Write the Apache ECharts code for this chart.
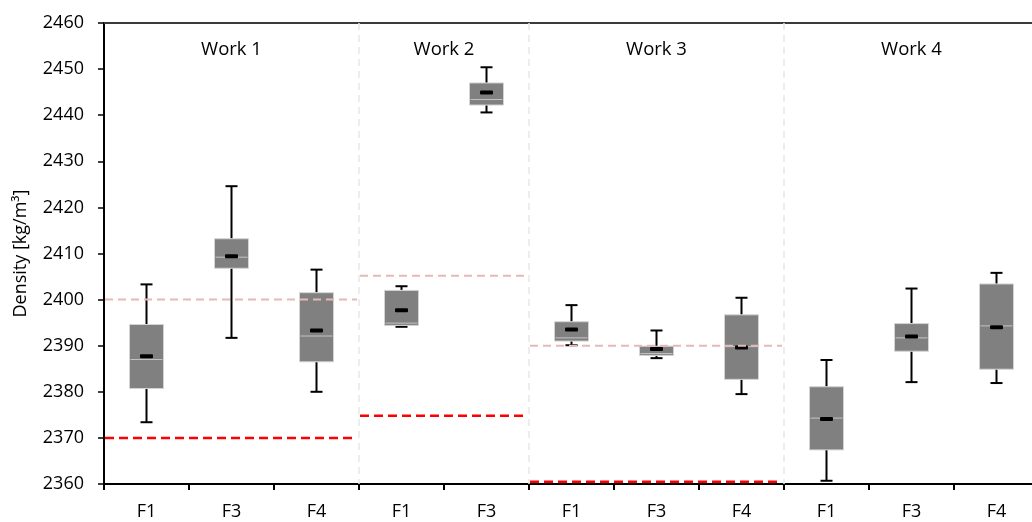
<!DOCTYPE html>
<html>
<head>
<meta charset="utf-8">
<script src="https://cdn.jsdelivr.net/npm/echarts@6/dist/echarts.min.js"></script>
<style>
  html, body { margin: 0; padding: 0; background: #ffffff; overflow: hidden; width: 1032px; height: 522px; }
  /* the plot area runs a few pixels past the right edge of the page */
  #chart { width: 1039px; height: 522px; }
</style>
</head>
<body>
<div id="chart"></div>
<script>
// Mixture labels along the x axis
const categories = ['F1', 'F3', 'F4', 'F1', 'F3', 'F1', 'F3', 'F4', 'F1', 'F3', 'F4'];

// Box statistics per mixture, density in kg/m3
const whiskerLow  = [2373.4, 2391.7, 2380.0, 2394.1, 2440.6, 2390.1, 2387.3, 2379.5, 2360.7, 2382.1, 2381.9];
const quartile1   = [2380.7, 2406.8, 2386.5, 2394.4, 2442.2, 2391.0, 2387.9, 2382.7, 2367.4, 2388.8, 2384.9];
const median      = [2387.0, 2409.2, 2392.1, 2394.9, 2443.4, 2391.7, 2388.3, 2389.8, 2374.3, 2391.7, 2394.3];
const quartile3   = [2394.6, 2413.2, 2401.5, 2402.0, 2447.0, 2395.2, 2389.9, 2396.7, 2381.1, 2394.8, 2403.4];
const whiskerHigh = [2403.3, 2424.6, 2406.5, 2402.9, 2450.4, 2398.8, 2393.3, 2400.4, 2386.9, 2402.4, 2405.8];
const mean        = [2387.7, 2409.4, 2393.3, 2397.7, 2444.9, 2393.5, 2389.3, 2389.6, 2374.1, 2392.0, 2394.0];

// Works and how many mixtures each one covers
const works = ['Work 1', 'Work 2', 'Work 3', 'Work 4'];
const workSizes = [3, 2, 3, 3];

// Reference densities per work (null = none given)
const referenceUpper = [2400.0, 2405.2, 2390.0, null];
const referenceLower = [2370.0, 2374.8, 2360.5, null];

// Density axis
const yMin = 2360, yMax = 2460, yStep = 10;

const FONT = '"Open Sans", "Noto Sans", sans-serif';

const boxData = categories.map((c, i) => [i, whiskerLow[i], quartile1[i], median[i], quartile3[i], whiskerHigh[i], mean[i]]);

let start = 0;
const workData = works.map((w, k) => {
  const row = [start, start + workSizes[k],
    referenceUpper[k] == null ? NaN : referenceUpper[k],
    referenceLower[k] == null ? NaN : referenceLower[k], k];
  start += workSizes[k];
  return row;
});

function renderBox(params, api) {
  const idx = api.value(0);
  const x = api.coord([idx, yMin])[0];
  const band = api.size([1, 0])[0];
  const bw = band * 0.4;
  const yLo = api.coord([idx, api.value(1)])[1];
  const yQ1 = api.coord([idx, api.value(2)])[1];
  const yMed = api.coord([idx, api.value(3)])[1];
  const yQ3 = api.coord([idx, api.value(4)])[1];
  const yHi = api.coord([idx, api.value(5)])[1];
  const yMean = api.coord([idx, api.value(6)])[1];
  const cap = 6;
  const black = { stroke: '#000000', lineWidth: 2 };
  return {
    type: 'group',
    children: [
      { type: 'line', shape: { x1: x, y1: yHi, x2: x, y2: yQ3 }, style: black },
      { type: 'line', shape: { x1: x, y1: yQ1, x2: x, y2: yLo }, style: black },
      { type: 'line', shape: { x1: x - cap, y1: yHi, x2: x + cap, y2: yHi }, style: black },
      { type: 'line', shape: { x1: x - cap, y1: yLo, x2: x + cap, y2: yLo }, style: black },
      { type: 'rect', shape: { x: x - bw / 2, y: yQ3, width: bw, height: yQ1 - yQ3 },
        style: { fill: '#808080', stroke: '#d4d4d4', lineWidth: 1 } },
      { type: 'line', shape: { x1: x - bw / 2 + 1, y1: yMed, x2: x + bw / 2 - 1, y2: yMed },
        style: { stroke: '#c4c4c4', lineWidth: 1 } },
      { type: 'rect', shape: { x: x - 6.5, y: yMean - 2, width: 13, height: 4, r: 1 },
        style: { fill: '#000000' } }
    ]
  };
}

function renderWork(params, api) {
  const s = api.value(0), e = api.value(1);
  const up = api.value(2), lo = api.value(3), k = api.value(4);
  const xs = api.coord([s, yMin])[0];
  const xe = api.coord([e, yMin])[0];
  const yTop = api.coord([s, yMax])[1];
  const yBot = api.coord([s, yMin])[1];
  const children = [];
  if (k < works.length - 1) {
    children.push({ type: 'line', z2: 1,
      shape: { x1: xe, y1: yTop, x2: xe, y2: yBot },
      style: { stroke: '#e8e8e8', lineWidth: 1.5, lineDash: [7, 5] } });
  }
  if (!isNaN(up)) {
    const y = api.coord([s, up])[1];
    children.push({ type: 'line', z2: 5,
      shape: { x1: xs + 1, y1: y, x2: xe - 2, y2: y },
      style: { stroke: '#e6b9b8', lineWidth: 2, lineDash: [8, 5] } });
  }
  if (!isNaN(lo)) {
    const y = api.coord([s, lo])[1];
    children.push({ type: 'line', z2: 5,
      shape: { x1: xs + 1, y1: y, x2: xe - 2, y2: y },
      style: { stroke: '#ff0000', lineWidth: 2.5, lineDash: [9, 5] } });
  }
  children.push({ type: 'text', z2: 6,
    style: { text: works[k], x: (xs + xe) / 2, y: yTop + 27, align: 'center', verticalAlign: 'middle',
      fontSize: 18.5, fontFamily: FONT, fill: '#000000' } });
  return { type: 'group', children };
}

const chart = echarts.init(document.getElementById('chart'), null, { renderer: 'canvas' });
chart.setOption({
  animation: false,
  backgroundColor: '#ffffff',
  grid: { left: 104, right: 0, top: 23, bottom: 38, containLabel: false },
  xAxis: [
    {
      type: 'category', data: categories, position: 'bottom', boundaryGap: true,
      axisLine: { show: true, lineStyle: { color: '#000000', width: 2 } },
      axisTick: { show: true, length: 6, lineStyle: { color: '#000000', width: 2 } },
      axisLabel: { color: '#000000', fontSize: 18, fontFamily: FONT, margin: 19 },
      splitLine: { show: false }
    },
    {
      type: 'value', min: 0, max: categories.length, position: 'top',
      axisLine: { show: true, onZero: false, lineStyle: { color: '#3a3a3a', width: 2 } },
      axisTick: { show: false }, axisLabel: { show: false }, splitLine: { show: false }
    }
  ],
  yAxis: {
    type: 'value', min: yMin, max: yMax, interval: yStep,
    name: 'Density [kg/m³]', nameLocation: 'middle', nameRotate: 90, nameGap: 74,
    nameTextStyle: { color: '#000000', fontSize: 18, fontFamily: FONT },
    axisLine: { show: true, onZero: false, lineStyle: { color: '#000000', width: 2 } },
    axisTick: { show: true, length: 6, lineStyle: { color: '#000000', width: 1.5 } },
    axisLabel: { color: '#000000', fontSize: 18, fontFamily: FONT, margin: 20,
      formatter: (v) => String(v) },
    splitLine: { show: false }
  },
  series: [
    {
      type: 'custom', name: 'works', xAxisIndex: 1, yAxisIndex: 0,
      renderItem: renderWork, data: workData, z: 3, silent: true,
      encode: { x: [0, 1], y: [2, 3] }
    },
    {
      type: 'custom', name: 'density', xAxisIndex: 0, yAxisIndex: 0,
      renderItem: renderBox, data: boxData, z: 2, silent: true,
      encode: { x: 0, y: [1, 2, 3, 4, 5, 6] }
    }
  ]
});
</script>
</body>
</html>
